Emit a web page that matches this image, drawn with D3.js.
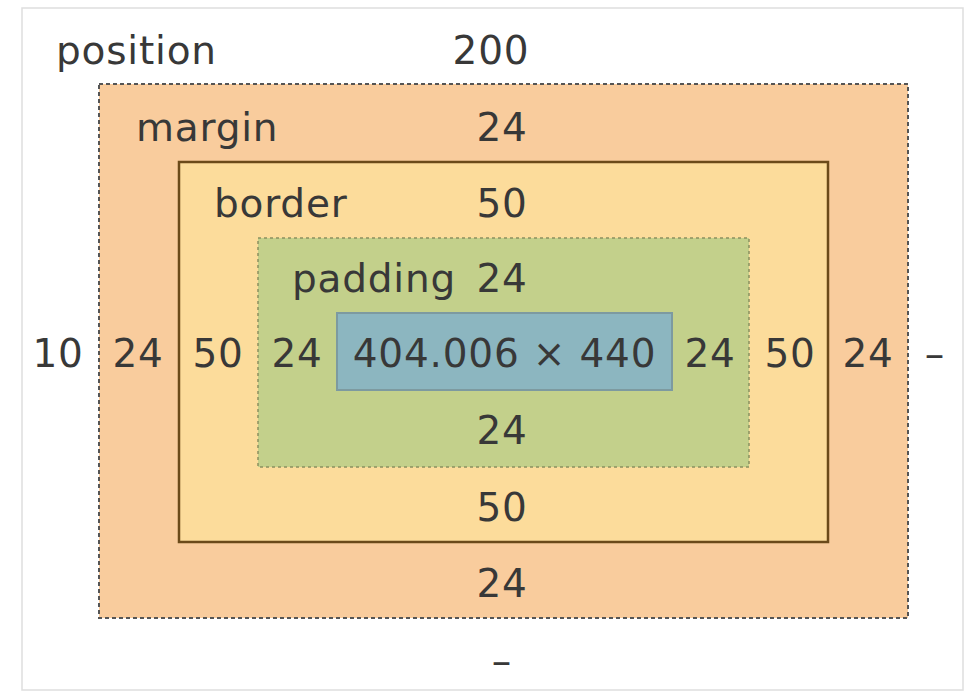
<!DOCTYPE html>
<html><head><meta charset="utf-8">
<script src="https://cdn.jsdelivr.net/npm/d3@7"></script>
<style>html,body{margin:0;padding:0;background:#fff;}svg{display:block;}</style>
</head><body>
<svg id="c" width="969" height="691"></svg>
<script>
// Box model data
const layers = ["position", "margin", "border", "padding", "content"];
const topValues = ["200", "24", "50", "24"];
const rightValues = ["–", "24", "50", "24"];
const bottomValues = ["–", "24", "50", "24"];
const leftValues = ["10", "24", "50", "24"];
const contentLabel = ["404.006 × 440"];

const svg = d3.select("#c");
const depth = d3.range(layers.length);

// scales mapping nesting depth to edges
const xL = d3.scaleOrdinal().domain(depth).range([22, 99, 179, 258, 337]);
const xR = d3.scaleOrdinal().domain(depth).range([963, 908, 828, 749, 672]);
const yT = d3.scaleOrdinal().domain(depth).range([8, 84, 162, 238, 313]);
const yB = d3.scaleOrdinal().domain(depth).range([690, 618, 542, 467, 390]);
// label rows / columns
const rowTop = d3.scaleOrdinal().domain(depth).range([50, 127, 203, 278]);
const rowBot = d3.scaleOrdinal().domain(depth).range([660, 583, 507, 430]);
const colL = d3.scaleOrdinal().domain(depth).range([58, 138, 218, 297]);
const colR = d3.scaleOrdinal().domain(depth).range([935, 868, 790, 710]);
const nameX = d3.scaleOrdinal().domain(depth).range([56, 136, 214, 292]);
const midY = 353;
const midX = 502;

const fill = d3.scaleOrdinal().domain(layers).range(["#ffffff", "#f9cc9d", "#fcdc9b", "#c3d08b", "#8cb6c0"]);
const stroke = d3.scaleOrdinal().domain(layers).range(["#dedede", "#555555", "#6b4a1a", "#8a9060", "#7d9aa0"]);
const dash = d3.scaleOrdinal().domain(layers).range(["none", "4,3", "none", "3,3", "none"]);
const sw = d3.scaleOrdinal().domain(layers).range([1.5, 2, 2.5, 1.5, 2]);

svg.selectAll("rect.box").data(layers).join("rect")
  .attr("class", "box")
  .attr("x", (d, i) => xL(i))
  .attr("y", (d, i) => yT(i))
  .attr("width", (d, i) => xR(i) - xL(i))
  .attr("height", (d, i) => yB(i) - yT(i))
  .attr("fill", d => fill(d))
  .attr("stroke", d => stroke(d))
  .attr("stroke-width", d => sw(d))
  .attr("stroke-dasharray", d => dash(d));

const font = "DejaVu Sans, Verdana, sans-serif";
const fs = 39;
const txtColor = "#383838";
const g = svg.append("g").attr("font-family", font).attr("font-size", fs)
  .attr("letter-spacing", "0.8px").attr("fill", txtColor).attr("dominant-baseline", "central");

const sides = layers.slice(0, 4);
g.selectAll("text.name").data(sides).join("text")
  .attr("x", (d, i) => nameX(i)).attr("y", (d, i) => rowTop(i)).text(d => d);

g.selectAll("text.top").data(topValues).join("text")
  .attr("text-anchor", "middle")
  .attr("x", (d, i) => i === 0 ? 491 : midX).attr("y", (d, i) => rowTop(i)).text(d => d);

g.selectAll("text.bot").data(bottomValues).join("text")
  .attr("text-anchor", "middle")
  .attr("x", midX).attr("y", (d, i) => rowBot(i)).text(d => d);

g.selectAll("text.left").data(leftValues).join("text")
  .attr("text-anchor", "middle")
  .attr("x", (d, i) => colL(i)).attr("y", midY).text(d => d);

g.selectAll("text.right").data(rightValues).join("text")
  .attr("text-anchor", "middle")
  .attr("x", (d, i) => colR(i)).attr("y", midY).text(d => d);

g.selectAll("text.content").data(contentLabel).join("text")
  .attr("text-anchor", "middle")
  .attr("x", (xL(4) + xR(4)) / 2).attr("y", midY).text(d => d);
</script>
</body></html>
